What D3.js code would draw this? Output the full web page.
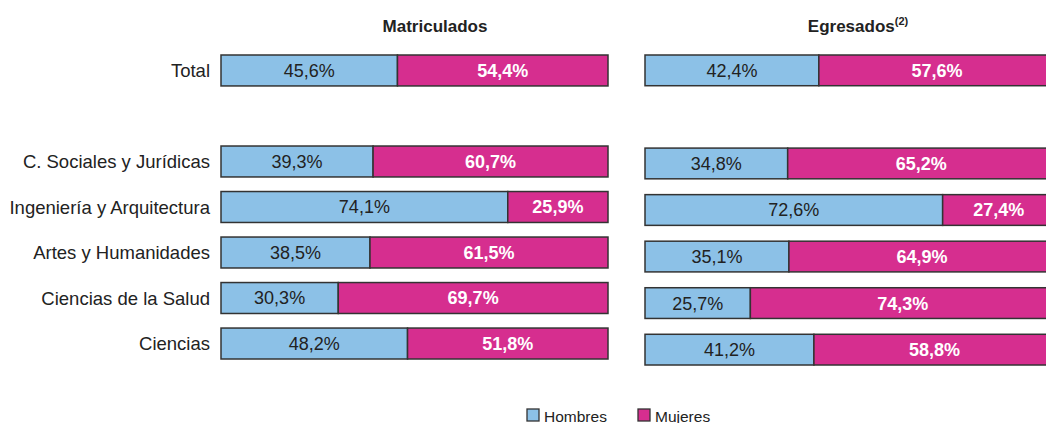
<!DOCTYPE html>
<html>
<head>
<meta charset="utf-8">
<script src="https://cdn.jsdelivr.net/npm/d3@7"></script>
<style>
  body { margin: 0; background: #fff; }
  svg { display: block; font-family: "Liberation Sans", Arial, sans-serif; }
</style>
</head>
<body>
<svg id="chart" width="1046" height="423"></svg>
<script>
// rows: "" is the empty slot between Total and the branches
const rows = ["Total", "", "C. Sociales y Jurídicas", "Ingeniería y Arquitectura",
  "Artes y Humanidades", "Ciencias de la Salud", "Ciencias"];
const categories = rows.filter(d => d !== "");

const hombresMatriculados = [45.6, 39.3, 74.1, 38.5, 30.3, 48.2];
const mujeresMatriculados = [54.4, 60.7, 25.9, 61.5, 69.7, 51.8];
const hombresEgresados = [42.4, 34.8, 72.6, 35.1, 25.7, 41.2];
const mujeresEgresados = [57.6, 65.2, 27.4, 64.9, 74.3, 58.8];

const seriesNames = ["Hombres", "Mujeres"];
const colors = {Hombres: "#8cc1e7", Mujeres: "#d62e8f"};

const svg = d3.select("#chart");
const fmt = v => d3.format(".1f")(v).replace(".", ",") + "%";

const panels = [
  {title: "Matriculados", sup: null, tx: 435, x0: 221, x1: 608, y0: 55, y1: 359, pad: 0.32,
   h: hombresMatriculados, m: mujeresMatriculados, labels: true},
  {title: "Egresados", sup: "(2)", tx: 858, x0: 645, x1: 1055, y0: 55, y1: 365, pad: 0.34,
   h: hombresEgresados, m: mujeresEgresados, labels: false}
];

panels.forEach(p => {
  const x = d3.scaleLinear().domain([0, 100]).range([p.x0, p.x1]);
  const y = d3.scaleBand().domain(rows).range([p.y0, p.y1]).paddingInner(p.pad).paddingOuter(0);

  const g = svg.append("g");

  const title = g.append("text")
    .attr("x", p.tx)
    .attr("y", 32)
    .attr("text-anchor", "middle")
    .style("font-weight", "bold")
    .style("font-size", "17px")
    .style("fill", "#222")
    .text(p.title);
  if (p.sup) {
    title.append("tspan")
      .attr("dy", -7)
      .style("font-size", "11px")
      .text(p.sup);
  }

  const data = categories.map((c, i) => ({cat: c, Hombres: p.h[i], Mujeres: p.m[i]}));
  const stacked = d3.stack().keys(seriesNames)(data);

  const layer = g.selectAll(".layer")
    .data(stacked)
    .enter().append("g")
    .attr("class", "layer");

  layer.selectAll("rect")
    .data(s => s.map(d => ({key: s.key, d0: d[0], d1: d[1], cat: d.data.cat})))
    .enter().append("rect")
    .attr("x", d => x(d.d0))
    .attr("y", d => y(d.cat))
    .attr("width", d => x(d.d1) - x(d.d0))
    .attr("height", y.bandwidth())
    .style("fill", d => colors[d.key])
    .style("stroke", "#333")
    .style("stroke-width", 1.5);

  layer.selectAll("text")
    .data(s => s.map(d => ({key: s.key, d0: d[0], d1: d[1], cat: d.data.cat})))
    .enter().append("text")
    .attr("x", d => (x(d.d0) + x(d.d1)) / 2)
    .attr("y", d => y(d.cat) + y.bandwidth() / 2)
    .attr("dy", "0.36em")
    .attr("text-anchor", "middle")
    .style("font-size", "18px")
    .style("font-weight", d => d.key === "Mujeres" ? "bold" : "normal")
    .style("fill", d => d.key === "Mujeres" ? "#fff" : "#222")
    .text(d => fmt(d.d1 - d.d0));

  if (p.labels) {
    g.selectAll(".cat")
      .data(categories)
      .enter().append("text")
      .attr("x", 210)
      .attr("y", d => y(d) + y.bandwidth() / 2)
      .attr("dy", "0.36em")
      .attr("text-anchor", "end")
      .style("font-size", "18.5px")
      .style("fill", "#222")
      .text(d => d);
  }
});

// legend
const legend = svg.append("g").attr("transform", "translate(527,409)");
const item = legend.selectAll("g")
  .data(seriesNames)
  .enter().append("g")
  .attr("transform", (d, i) => `translate(${i * 111},0)`);
item.append("rect")
  .attr("width", 12).attr("height", 12)
  .style("fill", d => colors[d])
  .style("stroke", "#333")
  .style("stroke-width", 1.3);
item.append("text")
  .attr("x", 17).attr("y", 12.5)
  .style("font-size", "15.5px")
  .style("fill", "#222")
  .text(d => d);
</script>
</body>
</html>
